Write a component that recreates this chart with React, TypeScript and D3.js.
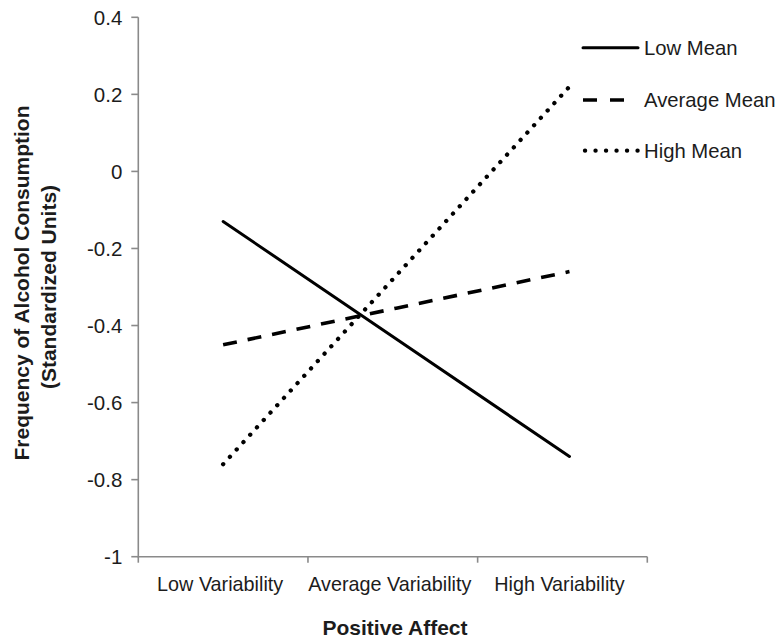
import React from "react";
import * as d3 from "d3";

const categories = ["Low Variability", "Average Variability", "High Variability"];
const lowMean = [-0.13, -0.435, -0.74];
const averageMean = [-0.45, -0.355, -0.26];
const highMean = [-0.76, -0.27, 0.22];
const yTicks = [0.4, 0.2, 0, -0.2, -0.4, -0.6, -0.8, -1];
const seriesNames = ["Low Mean", "Average Mean", "High Mean"];

const W = 777;
const H = 639;
const FONT = "'Liberation Sans', Arial, Helvetica, sans-serif";
const AXIS = "#8a8a8a";
const INK = "#1c1c1c";

const fmtTick = (t: number) => String(t).replace("\u2212", "-");

export default function App() {
  const plot = { left: 138.3, right: 647.3, top: 17.3, bottom: 556.7 };
  const y = d3.scaleLinear().domain([-1, 0.4]).range([plot.bottom, plot.top]);
  const xBand = d3.scaleBand().domain(categories).range([plot.left, plot.right]).padding(0);
  const bw = xBand.bandwidth();
  const xLine = d3
    .scalePoint()
    .domain(categories)
    .range([(xBand(categories[0]) as number) + bw / 2, (xBand(categories[2]) as number) + bw / 2 + 7]);

  const line = d3
    .line<number>()
    .x((_, i) => xLine(categories[i]) as number)
    .y((d) => y(d));

  const series = [
    { name: seriesNames[0], values: lowMean, dash: undefined as string | undefined, width: 3, cap: "round" },
    { name: seriesNames[1], values: averageMean, dash: "14 11", width: 3.6, cap: "butt" },
    { name: seriesNames[2], values: highMean, dash: "0.1 9.9", width: 4.3, cap: "round" },
  ];

  const boundaries = [...categories.map((c) => xBand(c) as number), plot.right];
  const legendY = [47.7, 100, 150.7];

  return (
    <svg
      width={W}
      height={H}
      style={{ position: "absolute", left: 0, top: 0, background: "#fff" }}
      fontFamily={FONT}
    >
      <rect x={0} y={0} width={W} height={H} fill="#fff" />
      {/* y axis */}
      <line x1={plot.left} x2={plot.left} y1={plot.top} y2={plot.bottom} stroke={AXIS} strokeWidth={1.6} />
      {yTicks.map((t) => (
        <g key={t}>
          <line x1={plot.left - 7} x2={plot.left} y1={y(t)} y2={y(t)} stroke={AXIS} strokeWidth={1.6} />
          <text
            x={plot.left - 16}
            y={y(t)}
            textAnchor="end"
            dominantBaseline="central"
            fontSize={20.5}
            fill={INK}
          >
            {fmtTick(t)}
          </text>
        </g>
      ))}
      {/* x axis */}
      <line x1={plot.left - 1} x2={plot.right} y1={plot.bottom} y2={plot.bottom} stroke={AXIS} strokeWidth={1.6} />
      {boundaries.map((b, i) => (
        <line key={i} x1={b} x2={b} y1={plot.bottom} y2={plot.bottom + 6} stroke={AXIS} strokeWidth={1.6} />
      ))}
      {categories.map((c) => (
        <text
          key={c}
          x={(xBand(c) as number) + bw / 2 - 3}
          y={590.5}
          textAnchor="middle"
          fontSize={19.8}
          fill={INK}
        >
          {c}
        </text>
      ))}
      <text x={395} y={635} textAnchor="middle" fontSize={21} fontWeight="bold" fill={INK}>
        Positive Affect
      </text>
      <g transform={`translate(0, ${(plot.top + plot.bottom) / 2}) rotate(-90)`} fontSize={21} fontWeight="bold" fill={INK}>
        <text x={4} y={29} textAnchor="middle">
          Frequency of Alcohol Consumption
        </text>
        <text x={0} y={56} textAnchor="middle">
          (Standardized Units)
        </text>
      </g>
      {/* lines */}
      {series.map((s) => (
        <path
          key={s.name}
          d={line(s.values) as string}
          fill="none"
          stroke="#000"
          strokeWidth={s.width}
          strokeDasharray={s.dash}
          strokeLinecap={s.cap as any}
        />
      ))}
      {/* legend */}
      {series.map((s, i) => (
        <g key={s.name}>
          <line
            x1={i === 2 ? 585 : 583}
            x2={i === 0 ? 638 : i === 1 ? 625 : 638}
            y1={legendY[i]}
            y2={legendY[i]}
            stroke="#000"
            strokeWidth={s.width}
            strokeDasharray={i === 1 ? "14 13" : i === 2 ? "0.1 10.4" : undefined}
            strokeLinecap={s.cap as any}
          />
          <text x={644} y={legendY[i]} dominantBaseline="central" fontSize={20.3} fill={INK}>
            {s.name}
          </text>
        </g>
      ))}
    </svg>
  );
}
